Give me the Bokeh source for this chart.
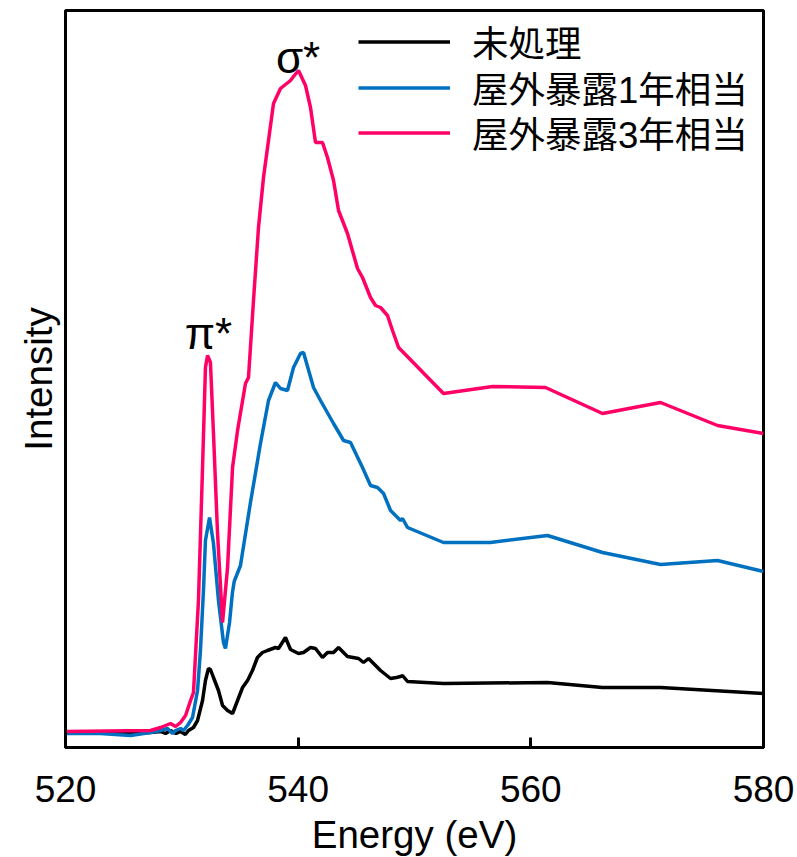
from bokeh.plotting import figure
from bokeh.models import Range1d, Label, Legend, LegendItem, FixedTicker
from bokeh.embed import file_html
from bokeh.resources import INLINE

# ---- data (energy in eV, intensity in arbitrary units) ----
x_ticks = [520, 540, 560, 580]

series_names = ["未処理", "屋外暴露1年相当", "屋外暴露3年相当"]

e_untreated = [520.00, 523.0, 525.59, 527.3, 528.17, 528.6, 529.03, 529.5, 529.89, 530.3,
               530.57, 531.00, 531.35, 531.78, 532.03, 532.29, 532.46, 532.72, 533.15, 533.50,
               533.93, 534.36, 534.79, 535.22, 535.65, 536.07, 536.50, 536.93, 537.36, 538.05,
               538.31, 538.91, 539.34, 540.03, 540.46, 541.06, 541.49, 542.09, 542.52, 543.04,
               543.47, 544.24, 545.19, 545.62, 546.05, 547.08, 547.94, 548.45, 548.80, 548.97,
               549.40, 552.49, 561.43, 566.16, 571.15, 580.00]
i_untreated = [0.15, 0.15, 0.14, 0.15, 0.16, 0.14, 0.17, 0.14, 0.16, 0.13,
               0.17, 0.20, 0.27, 0.47, 0.67, 0.79, 0.78, 0.70, 0.57, 0.42,
               0.37, 0.34, 0.47, 0.60, 0.67, 0.77, 0.90, 0.95, 0.97, 1.00,
               0.99, 1.10, 0.98, 0.94, 0.95, 1.00, 0.99, 0.90, 0.95, 0.95,
               1.00, 0.91, 0.89, 0.85, 0.89, 0.77, 0.69, 0.70, 0.71, 0.72,
               0.66, 0.64, 0.65, 0.60, 0.60, 0.54]

e_1year = [520.00, 523.0, 525.59, 527.3, 528.17, 528.77, 529.2, 529.46, 529.89, 530.14,
           530.49, 530.92, 531.35, 531.60, 531.86, 532.03, 532.38, 532.72, 533.15, 533.58,
           533.75, 534.10, 534.35, 534.50, 535.04, 535.90, 536.76, 537.45, 538.05, 538.48,
           539.08, 539.60, 540.20, 540.46, 541.32, 541.92, 543.04, 543.90, 544.50, 545.53,
           546.22, 546.82, 547.34, 547.94, 548.80, 548.97, 549.40, 552.49, 556.53, 561.43,
           566.16, 571.15, 576.05, 580.00]
i_1year = [0.14, 0.14, 0.12, 0.15, 0.17, 0.19, 0.14, 0.17, 0.19, 0.17,
           0.22, 0.30, 0.57, 0.97, 1.57, 2.07, 2.30, 2.04, 1.47, 1.05,
           0.99, 1.25, 1.55, 1.66, 1.82, 2.45, 3.04, 3.47, 3.65, 3.59,
           3.57, 3.80, 3.94, 3.95, 3.60, 3.47, 3.24, 3.07, 3.05, 2.80,
           2.62, 2.60, 2.54, 2.37, 2.27, 2.29, 2.20, 2.05, 2.05, 2.12,
           1.95, 1.83, 1.87, 1.76]

e_3year = [520.00, 527.31, 528.17, 529.03, 529.46, 529.89, 530.32, 530.75, 531.00, 531.43,
           531.78, 532.03, 532.21, 532.46, 532.72, 533.07, 533.50, 533.93, 534.36, 534.79,
           535.47, 535.73, 536.16, 536.59, 537.02, 537.45, 537.88, 538.48, 539.34, 539.60,
           540.03, 540.63, 541.06, 541.49, 542.09, 542.52, 543.04, 543.47, 544.24, 545.10,
           545.53, 546.22, 546.65, 547.08, 547.68, 548.11, 548.63, 552.49, 556.71, 561.26,
           566.16, 571.15, 576.05, 580.00]
i_3year = [0.16, 0.17, 0.20, 0.24, 0.21, 0.25, 0.32, 0.47, 0.55, 1.47,
           2.80, 3.80, 3.92, 3.85, 3.14, 2.14, 1.25, 1.80, 2.80, 3.17,
           3.64, 3.70, 4.47, 5.20, 5.70, 6.07, 6.44, 6.59, 6.67, 6.71,
           6.77, 6.62, 6.40, 6.05, 6.05, 5.90, 5.67, 5.37, 5.14, 4.79,
           4.70, 4.50, 4.42, 4.40, 4.32, 4.17, 4.00, 3.54, 3.61, 3.60,
           3.34, 3.45, 3.22, 3.14]

colors = ["#000000", "#0070C0", "#FF0066"]

LATIN = "Liberation Sans"
CJK = "Liberation Sans, Noto Sans CJK JP"

p = figure(frame_width=698, frame_height=737,
           min_border_left=65, min_border_right=34, min_border_top=10, min_border_bottom=110,
           x_range=Range1d(520, 580), y_range=Range1d(0, 7.37),
           output_backend="svg", toolbar_location=None,
           background_fill_color="white", border_fill_color="white")

p.grid.visible = False
p.outline_line_color = "black"
p.outline_line_width = 3

# x axis
p.xaxis.ticker = FixedTicker(ticks=x_ticks)
p.xaxis.major_tick_in = 10
p.xaxis.major_tick_out = 0
p.xaxis.minor_tick_in = 0
p.xaxis.minor_tick_out = 0
p.xaxis.major_tick_line_width = 3
p.xaxis.axis_line_width = 3
p.xaxis.major_label_text_font = LATIN
p.xaxis.major_label_text_font_size = "37px"
p.xaxis.major_label_text_color = "black"
p.xaxis.major_label_standoff = 28
p.xaxis.axis_label = "Energy (eV)"
p.xaxis.axis_label_text_font = LATIN
p.xaxis.axis_label_text_font_size = "38.5px"
p.xaxis.axis_label_text_font_style = "normal"
p.xaxis.axis_label_text_color = "black"
p.xaxis.axis_label_standoff = 8

# y axis (no ticks)
p.yaxis.ticker = FixedTicker(ticks=[])
p.yaxis.major_tick_in = 0
p.yaxis.major_tick_out = 0
p.yaxis.minor_tick_in = 0
p.yaxis.minor_tick_out = 0
p.yaxis.major_label_standoff = 0
p.yaxis.axis_line_width = 3
p.yaxis.axis_label = "Intensity"
p.yaxis.axis_label_text_font = LATIN
p.yaxis.axis_label_text_font_size = "38.5px"
p.yaxis.axis_label_text_font_style = "normal"
p.yaxis.axis_label_text_color = "black"
p.yaxis.axis_label_standoff = 6

r0 = p.line(e_untreated, i_untreated, line_color=colors[0], line_width=3.5)
r1 = p.line(e_1year, i_1year, line_color=colors[1], line_width=3.5)
r2 = p.line(e_3year, i_3year, line_color=colors[2], line_width=3.5)

# one single-item legend per row, so that the rows sit at the original spacing
legend_bottoms = [679, 633, 588]
for name, rend, yb in zip(series_names, [r0, r1, r2], legend_bottoms):
    lg = Legend(items=[LegendItem(label=name, renderers=[rend])],
                location=(293, yb), padding=0, margin=0, spacing=0,
                glyph_width=92, glyph_height=45, label_height=45, label_standoff=22,
                label_text_font=CJK, label_text_font_size="36.5px",
                label_text_color="black", label_text_baseline="middle",
                border_line_color=None, background_fill_alpha=0)
    p.add_layout(lg)

# peak annotations
p.add_layout(Label(x=532.29, y=4.14, text="π*", text_align="center", text_baseline="alphabetic",
                   text_font=LATIN, text_font_size="44px", text_color="black"))
p.add_layout(Label(x=539.99, y=6.90, text="σ*", text_align="center", text_baseline="alphabetic",
                   text_font=LATIN, text_font_size="44px", text_color="black"))

open("out.html", "w").write(file_html(p, INLINE))
